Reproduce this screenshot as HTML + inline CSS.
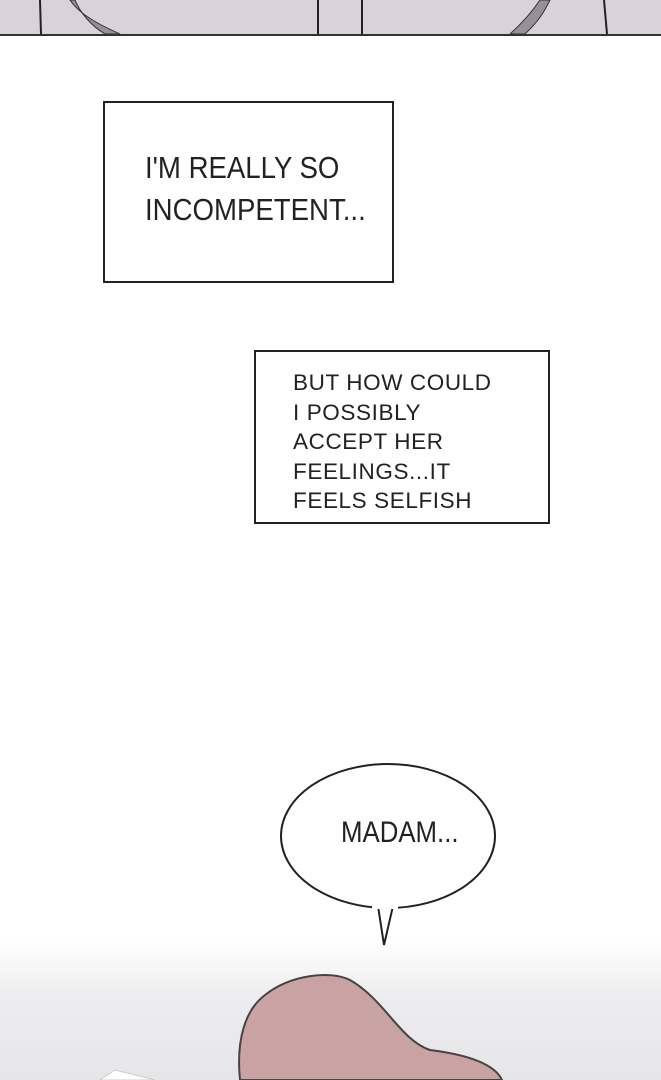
<!DOCTYPE html>
<html><head><style>
body{margin:0;width:661px;height:1080px;position:relative;overflow:hidden;background:#fff;font-family:"Liberation Sans",sans-serif}
.box{position:absolute;border:2px solid #222;box-sizing:border-box;background:#fff}
.t1{position:absolute;left:145px;top:147px;font-size:31px;line-height:42px;color:#222;transform:scaleX(.89);transform-origin:0 0;white-space:nowrap}
.t2{position:absolute;left:293px;top:368px;font-size:22.5px;line-height:29.5px;letter-spacing:.6px;color:#222;white-space:nowrap}
</style></head><body>
<div style="position:absolute;left:0;top:0;width:661px;height:34px;background:#d9d1dc;border-bottom:2px solid #333"></div>
<svg style="position:absolute;left:0;top:0" width="661" height="36">
<path d="M40 0 L41 34 M318 0 L318 34 M362 0 L362 34 M604 0 L607 34" stroke="#222" stroke-width="2"/>
<path d="M70 0 C80 15 100 25 120 34 L105 34 C90 25 80 12 75 0Z" fill="#9a8f98" stroke="#333"/>
<path d="M540 0 C530 15 520 25 510 34 L525 34 C540 20 545 10 550 0Z" fill="#9a8f98" stroke="#333"/>
</svg>
<div class="box" style="left:103px;top:101px;width:291px;height:182px"></div>
<div class="t1">I'M REALLY SO<br>INCOMPETENT...</div>
<div class="box" style="left:254px;top:350px;width:296px;height:174px"></div>
<div class="t2">BUT HOW COULD<br>I POSSIBLY<br>ACCEPT HER<br>FEELINGS...IT<br>FEELS SELFISH</div>
<div style="position:absolute;left:0;top:940px;width:661px;height:140px;background:linear-gradient(#fff,#ededef 40%,#e6e6e8)"></div>
<svg style="position:absolute;left:0;top:740px" width="661" height="340">
<ellipse cx="388" cy="96" rx="107" ry="72" fill="#fff" stroke="#222" stroke-width="2"/>
<path d="M378 166 L384 205 L393 166" fill="#fff" stroke="#222" stroke-width="2"/>
<path d="M372 167 L398 167" stroke="#fff" stroke-width="4"/>
<path d="M240 340 C236 300 245 270 265 255 C290 235 330 230 350 240 C385 260 400 300 430 310 C470 315 495 325 502 340Z" fill="#c9a3a3" stroke="#444" stroke-width="2"/>
<path d="M100 340 L115 330 L155 340Z" fill="#fff" stroke="#ccc"/>
</svg>
<div style="position:absolute;left:341px;top:816px;font-size:30px;color:#222;transform:scaleX(.86);transform-origin:0 0;white-space:nowrap">MADAM...</div>
</body></html>
